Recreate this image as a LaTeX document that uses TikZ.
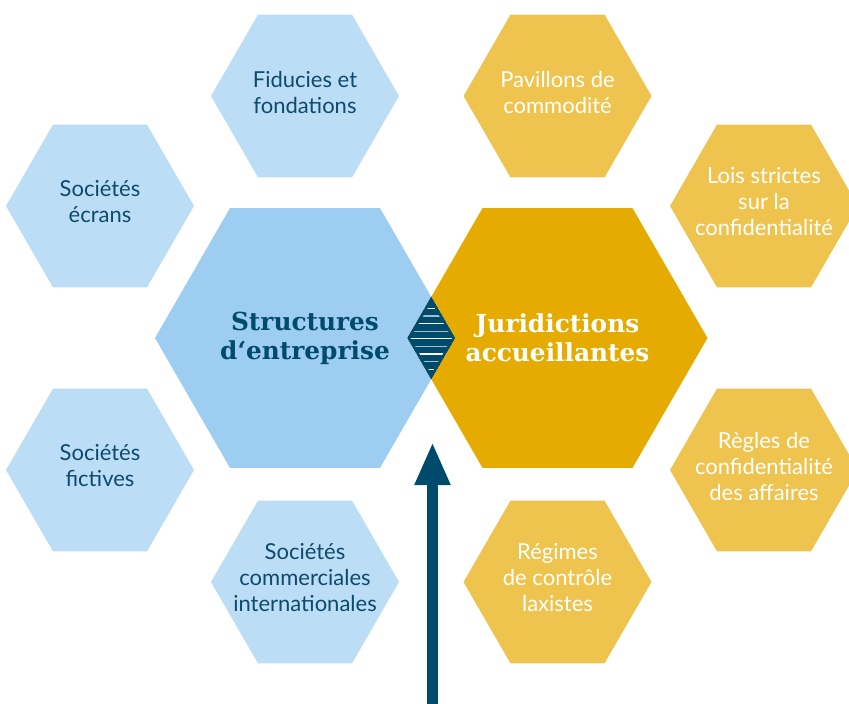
\documentclass[tikz,border=0pt]{standalone}
\usepackage{fontspec}
\setmainfont{Lato}
\newfontfamily\titlefont{DejaVu Serif}
\usetikzlibrary{arrows.meta}

\definecolor{paleblue}{HTML}{BBDDF5}
\definecolor{midblue}{HTML}{9DCDF0}
\definecolor{gold}{HTML}{E5AB00}
\definecolor{palegold}{HTML}{EEC44E}
\definecolor{navy}{HTML}{004A6C}
\definecolor{inkblue}{HTML}{0E4A6E}
\definecolor{stripe}{HTML}{A3BDD0}

% filled hexagon with flat top and bottom: style, centre, circumradius
\newcommand\hexfill[3]{%
  \fill[#1] (#2) +(0:#3) -- +(60:#3) -- +(120:#3) -- +(180:#3)
    -- +(240:#3) -- +(300:#3) -- cycle;}

\tikzset{
  smalltext/.style={align=center, inner sep=0pt, yshift=4pt,
    font=\fontsize{22}{26}\selectfont},
  darktext/.style={smalltext, text=inkblue},
  lighttext/.style={smalltext, text=white},
  bigtext/.style={align=center, inner sep=0pt,
    font=\titlefont\bfseries\fontsize{24.8}{29}\selectfont},
  lane/.style={line width=1.3pt},
}

\begin{document}
\begin{tikzpicture}[x=1pt,y=-1pt]
\useasboundingbox (0,0) rectangle (849,704);
\clip (0,0) rectangle (849,704);

% centres
\coordinate (c-fid) at (305,96);
\coordinate (c-ecr) at (100,206);
\coordinate (c-fic) at (100,470);
\coordinate (c-com) at (305,582);
\coordinate (c-pav) at (557.5,96);
\coordinate (c-loi) at (764,206);
\coordinate (c-reg) at (764,470);
\coordinate (c-lax) at (557.5,582);
\coordinate (c-str) at (305,338);
\coordinate (c-jur) at (557.5,338);

% outer hexagons
\hexfill{paleblue}{c-fid}{94}
\hexfill{paleblue}{c-ecr}{94}
\hexfill{paleblue}{c-fic}{94}
\hexfill{paleblue}{c-com}{94}
\hexfill{palegold}{c-pav}{94}
\hexfill{palegold}{c-loi}{94}
\hexfill{palegold}{c-reg}{94}
\hexfill{palegold}{c-lax}{94}

% central hexagons
\hexfill{midblue}{c-str}{150}
\hexfill{gold}{c-jur}{150}

% striped overlap of the two central hexagons
\coordinate (dl) at (407.5,338);
\coordinate (dt) at (431.25,296.9);
\coordinate (dr) at (455,338);
\coordinate (db) at (431.25,379.1);
\begin{scope}
  \clip (dl) -- (dt) -- (dr) -- (db) -- cycle;
  \fill[navy] (dl) -- (dt) -- (dr) -- (db) -- cycle;
  \foreach \k in {0,...,8}{
    \pgfmathsetmacro\yy{308.4+7.6*\k}
    \ifodd\k
      \draw[lane, stripe] (400,\yy) -- (462,\yy);
    \else
      \draw[lane, white] (400,\yy) -- (462,\yy);
    \fi
  }
  \draw[navy, line width=5pt] (dl) -- (dt) -- (dr) -- (db) -- cycle;
\end{scope}

% labels
\node[darktext] (fid) at (c-fid) {Fiducies et\\fondations};
\node[darktext] (ecr) at (c-ecr) {Sociétés\\écrans};
\node[darktext] (fic) at (c-fic) {Sociétés\\fictives};
\node[darktext] (com) at (c-com) {Sociétés\\commerciales\\internationales};
\node[lighttext] (pav) at (c-pav) {Pavillons de\\commodité};
\node[lighttext] (loi) at (c-loi) {Lois strictes\\sur la\\confidentialité};
\node[lighttext] (reg) at (c-reg) {Règles de\\confidentialité\\des affaires};
\node[lighttext] (lax) at (c-lax) {Régimes\\de contrôle\\laxistes};
\node[bigtext, text=navy] (str) at (c-str) {Structures\\d‘entreprise};
\node[bigtext, text=white] (jur) at (c-jur) {Juridictions\\accueillantes};

% upward arrow into the gap below the overlap
\coordinate (arrowfoot) at (432.5,712);
\coordinate (arrowtip) at (432.5,442);
\draw[navy, line width=11pt, -{Triangle[length=43pt,width=33pt]}]
  (arrowfoot) -- (arrowtip);
\end{tikzpicture}
\end{document}
